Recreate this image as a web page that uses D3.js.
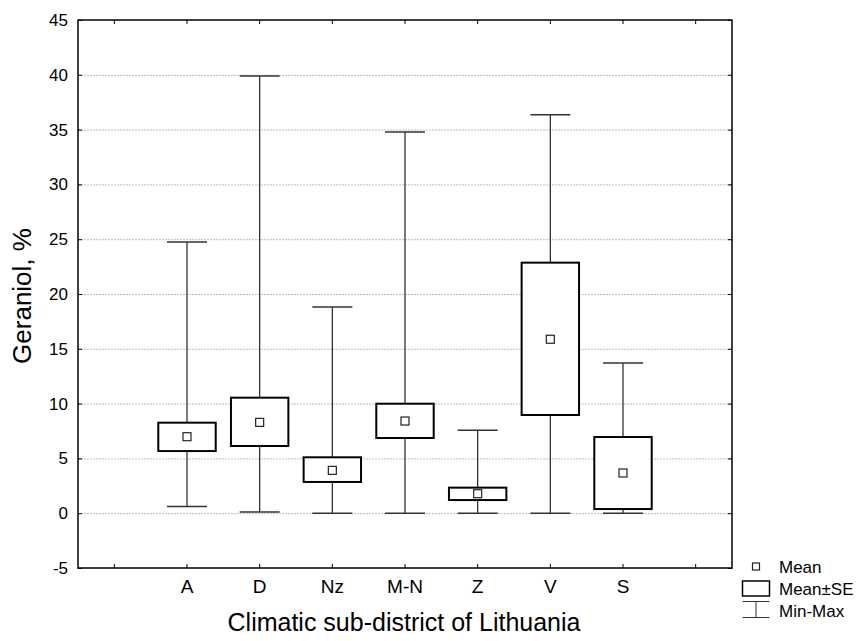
<!DOCTYPE html>
<html>
<head>
<meta charset="utf-8">
<script src="https://cdn.jsdelivr.net/npm/d3@7"></script>
<style>
	body { margin: 0; background: #fff; }
	text { font-family: Arial, "Liberation Sans", sans-serif; fill: #000; }
</style>
</head>
<body>
<svg id="chart" width="860" height="641"></svg>
<script>
// values
const districts = ['A', 'D', 'Nz', 'M-N', 'Z', 'V', 'S'];
const means = [6.98, 8.29, 3.91, 8.41, 1.78, 15.87, 3.67];
const seLow = [5.67, 6.13, 2.85, 6.86, 1.20, 8.96, 0.38];
const seHigh = [8.26, 10.54, 5.10, 9.99, 2.33, 22.86, 6.95];
const mins = [0.6, 0.11, 0.0, 0.0, 0.0, 0.0, 0.0];
const maxs = [24.74, 39.9, 18.81, 34.78, 7.56, 36.36, 13.7];
const yTicks = [-5, 0, 5, 10, 15, 20, 25, 30, 35, 40, 45];

const svg = d3.select('#chart');
const margin = { top: 20, right: 128, bottom: 73, left: 78 };
const width = 860 - margin.left - margin.right;
const height = 641 - margin.top - margin.bottom;

// empty slot on each side of the categories
const slots = [' _l', ...districts, ' _r'];
const x = d3.scaleBand().domain(slots).range([0, width]);
const y = d3.scaleLinear().domain([-5, 45]).range([height, 0]);

const data = districts.map((d, i) => ({
	name: d,
	mean: means[i],
	lo: seLow[i],
	hi: seHigh[i],
	min: mins[i],
	max: maxs[i]
}));

const g = svg.append('g')
	.attr('transform', `translate(${margin.left},${margin.top})`);

// grid
g.selectAll('.grid')
	.data(yTicks.filter(t => t > -5 && t < 45))
	.enter().append('line')
	.attr('x1', 0).attr('x2', width)
	.attr('y1', d => y(d) + 0.5).attr('y2', d => y(d) + 0.5)
	.attr('stroke', '#bdbdbd')
	.attr('stroke-dasharray', '2,1')
	.attr('stroke-width', 1);

// axes, ticks inside
const tickX = d => x(d) + x.bandwidth() / 2;
const axisStyle = sel => {
	sel.select('.domain').remove();
	sel.selectAll('line').attr('stroke', '#000');
};

g.append('g')
	.attr('transform', `translate(0,${height})`)
	.call(d3.axisBottom(x).tickSizeInner(-4).tickSizeOuter(0).tickFormat(d => d.startsWith(' ') ? '' : d).tickPadding(12))
	.call(axisStyle)
	.selectAll('text').style('font-size', '19px');

g.append('g')
	.call(d3.axisTop(x).tickSizeInner(-4).tickSizeOuter(0).tickFormat(''))
	.call(axisStyle);

g.append('g')
	.call(d3.axisLeft(y).tickValues(yTicks).tickSizeInner(-4).tickSizeOuter(0).tickPadding(10).tickFormat(d => String(d)))
	.call(axisStyle)
	.selectAll('text').style('font-size', '17px');

g.append('g')
	.attr('transform', `translate(${width},0)`)
	.call(d3.axisRight(y).tickValues(yTicks).tickSizeInner(-4).tickSizeOuter(0).tickFormat(''))
	.call(axisStyle);

g.append('rect')
	.attr('x', 0).attr('y', 0)
	.attr('width', width).attr('height', height)
	.attr('fill', 'none')
	.attr('stroke', '#000')
	.attr('stroke-width', 1.5);

// whiskers
const capW = x.bandwidth() * 0.55;
const boxW = x.bandwidth() * 0.79;
const items = g.selectAll('.item')
	.data(data)
	.enter().append('g')
	.attr('transform', d => `translate(${tickX(d.name)},0)`);

items.append('line')
	.attr('x1', 0).attr('x2', 0)
	.attr('y1', d => y(d.min)).attr('y2', d => y(d.max))
	.attr('stroke', '#222').attr('stroke-width', 1.2);

items.selectAll('.cap')
	.data(d => [d.min, d.max])
	.enter().append('line')
	.attr('x1', -capW / 2).attr('x2', capW / 2)
	.attr('y1', v => y(v)).attr('y2', v => y(v))
	.attr('stroke', '#333').attr('stroke-width', 1.5);

items.append('rect')
	.attr('x', -boxW / 2)
	.attr('y', d => y(d.hi))
	.attr('width', boxW)
	.attr('height', d => y(d.lo) - y(d.hi))
	.attr('fill', '#fff')
	.attr('stroke', '#000')
	.attr('stroke-width', 2);

items.append('rect')
	.attr('x', -4).attr('y', d => y(d.mean) - 4)
	.attr('width', 8).attr('height', 8)
	.attr('fill', '#fff')
	.attr('stroke', '#222')
	.attr('stroke-width', 1.2);

// axis titles
svg.append('text')
	.attr('x', 404)
	.attr('y', 631)
	.attr('text-anchor', 'middle')
	.style('font-size', '25px')
	.text('Climatic sub-district of Lithuania');

svg.append('text')
	.attr('transform', 'translate(31,296) rotate(-90)')
	.attr('text-anchor', 'middle')
	.style('font-size', '26px')
	.text('Geraniol, %');

// legend
const lg = svg.append('g').attr('transform', 'translate(756,0)');
lg.append('rect')
	.attr('x', -3.5).attr('y', 563).attr('width', 7).attr('height', 7)
	.attr('fill', '#fff').attr('stroke', '#222').attr('stroke-width', 1.2);
lg.append('rect')
	.attr('x', -13.5).attr('y', 581).attr('width', 27).attr('height', 15)
	.attr('fill', '#fff').attr('stroke', '#000').attr('stroke-width', 1.5);
lg.append('line').attr('x1', -13.5).attr('x2', 13.5).attr('y1', 601.5).attr('y2', 601.5).attr('stroke', '#333');
lg.append('line').attr('x1', -13.5).attr('x2', 13.5).attr('y1', 617.5).attr('y2', 617.5).attr('stroke', '#333');
lg.append('line').attr('x1', 0).attr('x2', 0).attr('y1', 601.5).attr('y2', 617.5).attr('stroke', '#333');

lg.selectAll('.lt')
	.data(['Mean', 'Mean±SE', 'Min-Max'])
	.enter().append('text')
	.attr('x', 23)
	.attr('y', (d, i) => 572.5 + i * 22)
	.style('font-size', '17px')
	.text(d => d);
</script>
</body>
</html>
